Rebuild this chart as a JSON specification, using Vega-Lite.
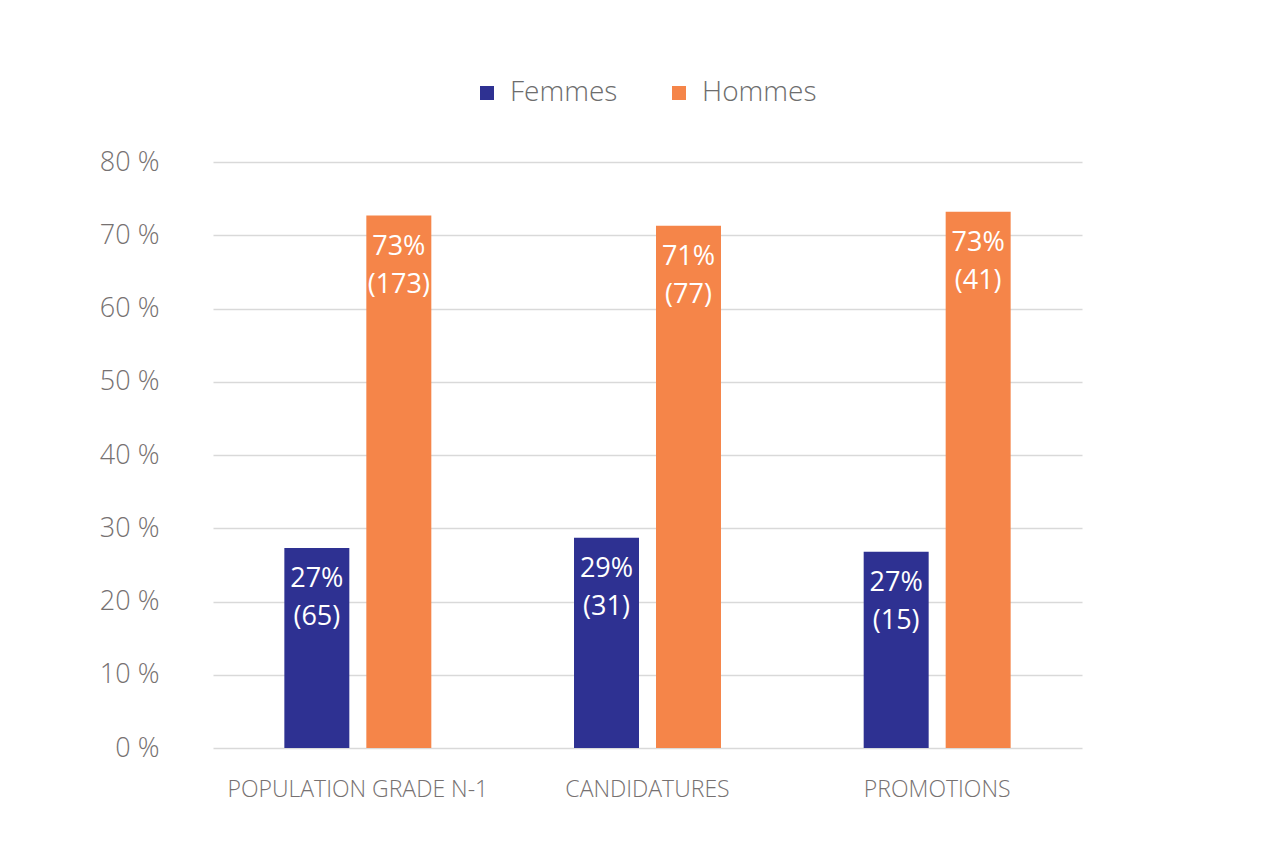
{
  "$schema": "https://vega.github.io/schema/vega-lite/v6.json",
  "width": 869,
  "height": 586,
  "autosize": "none",
  "padding": {"left": 213, "top": 162, "right": 200, "bottom": 100},
  "background": "white",
  "config": {"view": {"stroke": null}},
  "data": {
    "values": [
      {"cat": "POPULATION GRADE N-1", "sexe": "Femmes", "pct": 27.31, "label": ["27%", "(65)"]},
      {"cat": "POPULATION GRADE N-1", "sexe": "Hommes", "pct": 72.69, "label": ["73%", "(173)"]},
      {"cat": "CANDIDATURES", "sexe": "Femmes", "pct": 28.70, "label": ["29%", "(31)"]},
      {"cat": "CANDIDATURES", "sexe": "Hommes", "pct": 71.30, "label": ["71%", "(77)"]},
      {"cat": "PROMOTIONS", "sexe": "Femmes", "pct": 26.79, "label": ["27%", "(15)"]},
      {"cat": "PROMOTIONS", "sexe": "Hommes", "pct": 73.21, "label": ["73%", "(41)"]}
    ]
  },
  "encoding": {
    "x": {
      "field": "cat", "type": "nominal", "sort": null,
      "scale": {"paddingInner": 0.4926, "paddingOuter": 0.2463},
      "axis": {"title": null, "labelAngle": 0, "ticks": false, "domain": false, "labelLimit": 0,
               "labelFont": "Open Sans", "labelFontWeight": 300, "labelFontSize": 23,
               "labelColor": "#767171", "labelPadding": 30}
    },
    "xOffset": {"field": "sexe", "type": "nominal", "scale": {"paddingInner": 0.2073, "paddingOuter": 0}},
    "y": {
      "field": "pct", "type": "quantitative",
      "scale": {"domain": [0, 80]},
      "axis": {"title": null, "values": [0, 10, 20, 30, 40, 50, 60, 70, 80],
               "labelExpr": "datum.value + ' %'", "ticks": false, "domain": false,
               "grid": true, "gridColor": "#d9d9d9", "gridWidth": 1.5,
               "labelFont": "Open Sans", "labelFontWeight": 300, "labelFontSize": 27,
               "labelColor": "#767171", "labelPadding": 54}
    }
  },
  "layer": [
    {
      "mark": {"type": "bar"},
      "encoding": {
        "color": {
          "field": "sexe", "type": "nominal",
          "scale": {"domain": ["Femmes", "Hommes"], "range": ["#2E3192", "#F58549"]},
          "legend": {"title": null, "orient": "none", "direction": "horizontal",
                     "legendX": 260, "legendY": -83,
                     "symbolType": "square", "symbolSize": 196, "symbolStrokeWidth": 0,
                     "labelFont": "Open Sans", "labelFontWeight": 300, "labelFontSize": 28,
                     "labelColor": "#6d6d6d", "labelOffset": 9, "columnPadding": 47}
        }
      }
    },
    {
      "mark": {"type": "text", "color": "white", "font": "Open Sans", "fontSize": 27,
               "baseline": "top", "dy": 18, "lineHeight": 38},
      "encoding": {"text": {"field": "label"}}
    }
  ]
}
